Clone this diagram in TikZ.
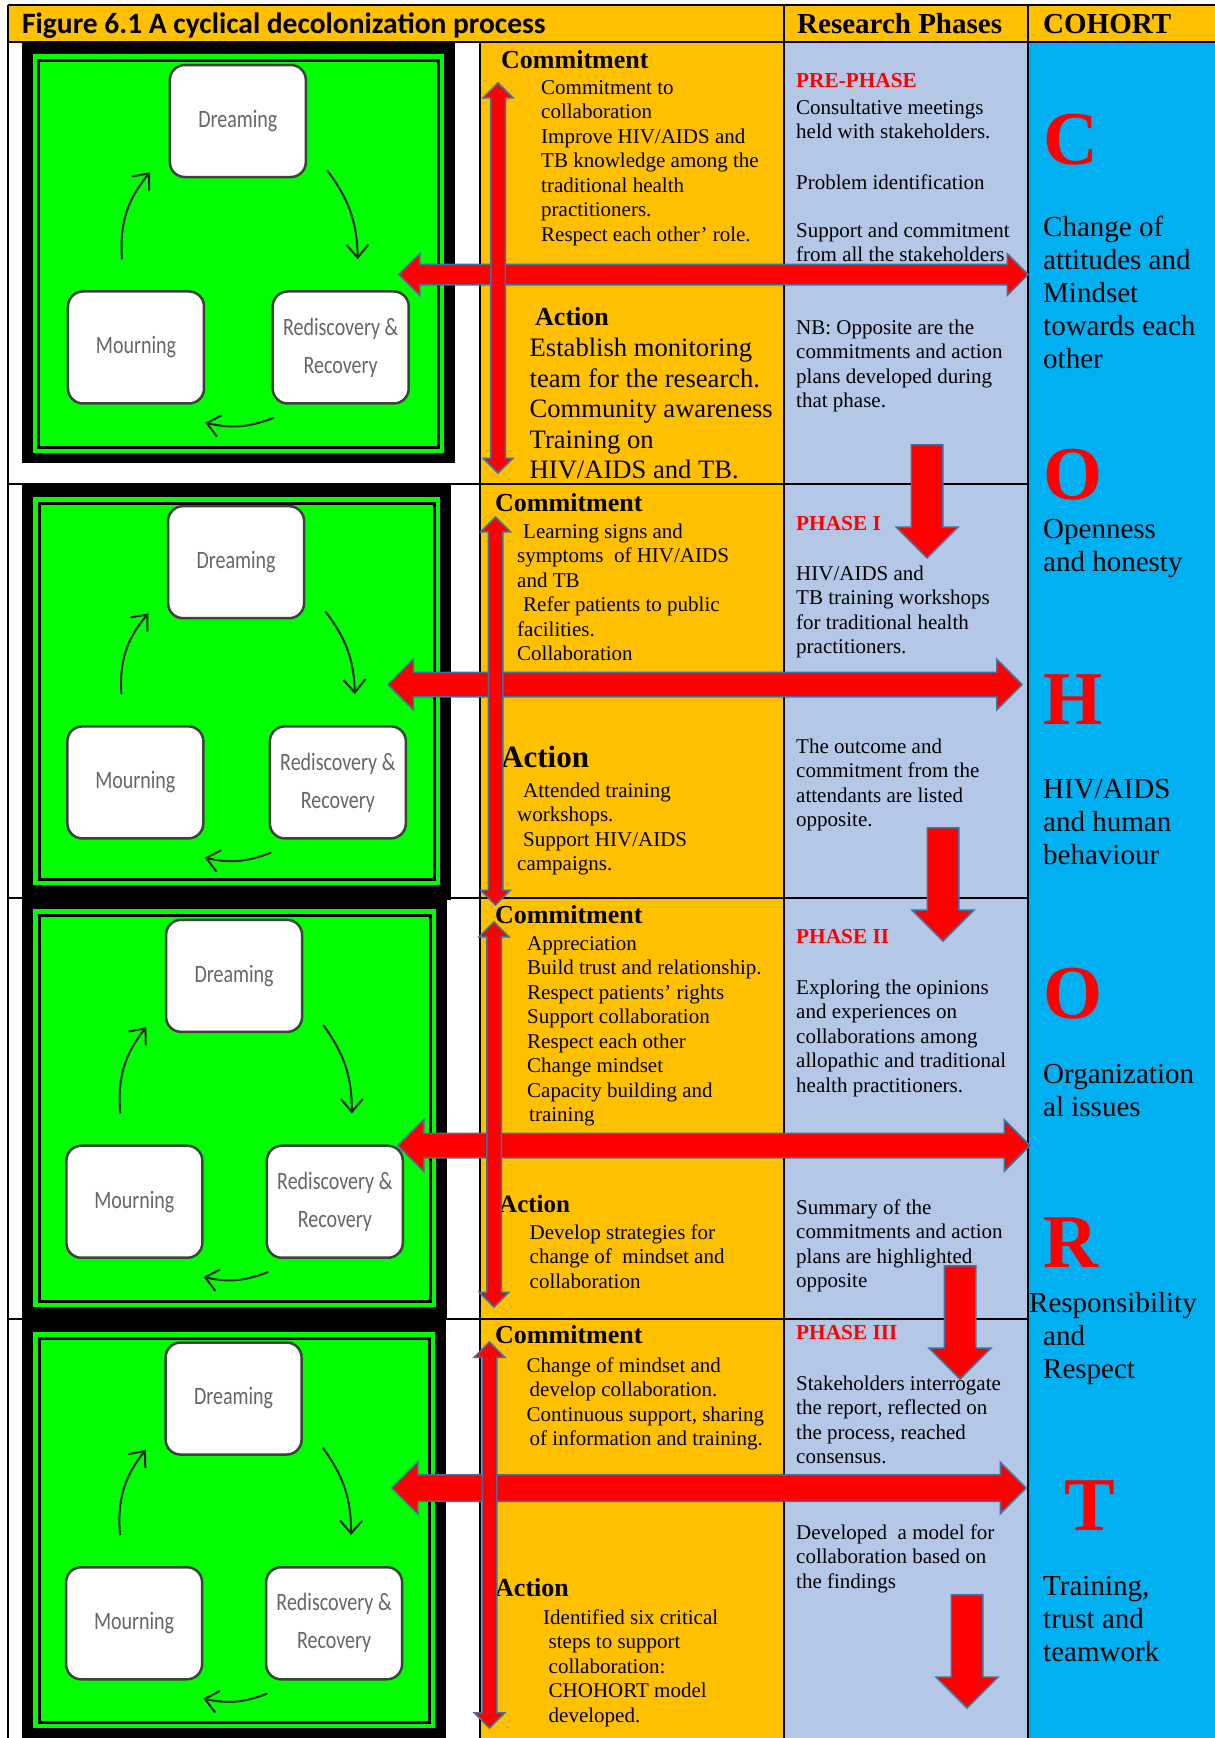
\documentclass[tikz,border=0pt]{standalone}
\usepackage{fontspec}
\setmainfont{Liberation Serif}
\newfontfamily\calibfont{Carlito}
\usetikzlibrary{arrows.meta, shapes.arrows}
\definecolor{cellorange}{HTML}{FFC000}
\definecolor{phaseblue}{HTML}{B4C7E7}
\definecolor{cohortblue}{HTML}{00B0F0}
\definecolor{imggreen}{HTML}{00FF00}
\definecolor{arrowedge}{HTML}{41719C}
\newcommand{\squeezed}[1]{\scalebox{0.8}[1]{#1}}
\tikzstyle{tableline} = [line width=2pt, black]
\tikzstyle{cbox} = [rectangle, draw=black!75, line width=2.5pt, fill=white,
    rounded corners=15pt, minimum width=136pt, minimum height=112pt,
    inner sep=0pt, align=center, text=black!60,
    font=\calibfont\fontsize{25}{38}\selectfont]
\tikzstyle{cycarrow} = [line width=2pt, black!85, -{Straight Barb[length=13pt,width=22pt]}]
\tikzstyle{fatdouble} = [double arrow, draw=arrowedge, fill=red, line width=1.5pt,
    inner xsep=0pt, double arrow tip angle=90]
\tikzstyle{fatdown} = [single arrow, draw=arrowedge, fill=red, line width=1.5pt,
    inner xsep=0pt, inner ysep=15pt, single arrow head extend=15pt,
    single arrow tip angle=90, rotate=-90, minimum height=113pt, anchor=tip]
\tikzstyle{textblock} = [anchor=north west, align=left, inner sep=0pt]
\tikzstyle{bodytext} = [textblock, font=\fontsize{21}{24.5}\selectfont,
    execute at begin node={\rule{0pt}{17.15pt}}, yshift=12.65pt]
\tikzstyle{bigtext} = [textblock, font=\fontsize{26.6}{30.5}\selectfont,
    execute at begin node={\rule{0pt}{21.35pt}}, yshift=16.85pt]
\tikzstyle{cohorttext} = [textblock, font=\fontsize{29}{33}\selectfont,
    execute at begin node={\rule{0pt}{23.1pt}}, yshift=18.6pt]
\tikzstyle{headtext} = [anchor=base west, inner sep=0pt, font=\bfseries\fontsize{26}{30}\selectfont]
\tikzstyle{phaselabel} = [anchor=base west, inner sep=0pt, text=red, font=\bfseries\fontsize{21.3}{24}\selectfont]
\tikzstyle{cohortletter} = [anchor=base west, inner sep=0pt, text=red, font=\bfseries\fontsize{76}{80}\selectfont]

\begin{document}
\begin{tikzpicture}[x=1pt, y=-1pt]
    \useasboundingbox (0,0) rectangle (1215,1738);
    \fill[white] (0,0) rectangle (1215,1738);

    % table cells
    \fill[cellorange] (8,5) rectangle (1215,42);
    \fill[cellorange] (480,42) rectangle (784,1738);
    \fill[phaseblue] (784,42) rectangle (1028,1738);
    \fill[cohortblue] (1028,42) rectangle (1215,1738);
    \draw[tableline] (8,5) -- (1215,5);
    \draw[tableline] (8,42) -- (1215,42);
    \draw[tableline] (8,5) -- (8,1738);
    \draw[tableline] (480,42) -- (480,1738);
    \draw[tableline] (784,5) -- (784,1738);
    \draw[tableline] (1028,5) -- (1028,1738);
    \foreach \ry in {484, 898, 1319}
        \draw[tableline] (8,\ry) -- (1028,\ry);

    % cycle pictures
    \fill[black] (22,43) rectangle (455,463);
    \fill[black] (22,485) rectangle (451,900);
    \fill[black] (22,898) rectangle (447,1320);
    \fill[black] (22,1320) rectangle (446,1738);
    \foreach \gx/\gy/\gw/\gh/\k in {32.5/54/411.5/399/1, 33/497/407/388/2, 33/909/403/398/3, 33/1332/402/396/4}{
        \fill[imggreen] (\gx,\gy) rectangle ++(\gw,\gh);
        \draw[line width=3pt] ({\gx+6},{\gy+6}) rectangle ({\gx+\gw-6},{\gy+\gh-6});
        \node[cbox] (dream\k) at ({\gx+0.499*\gw},{\gy+0.168*\gh}) {\squeezed{Dreaming}};
        \node[cbox] (mourn\k) at ({\gx+0.2515*\gw},{\gy+0.7355*\gh}) {\squeezed{Mourning}};
        \node[cbox] (redis\k) at ({\gx+0.749*\gw},{\gy+0.7355*\gh}) {\squeezed{Rediscovery \&}\\\squeezed{Recovery}};
        \draw[cycarrow] ([xshift=-14pt,yshift=31pt]mourn\k.north) to[bend left=22] ([xshift=-18.5pt,yshift=6pt]dream\k.south west);
        \draw[cycarrow] ([xshift=20pt,yshift=8pt]dream\k.south east) to[bend left=18] ([xshift=17pt,yshift=31pt]redis\k.north);
        \draw[cycarrow] ([xshift=2.5pt,yshift=-13pt]redis\k.south west) to[bend left=17] ([xshift=0pt,yshift=-18pt]mourn\k.south east);
    }

    % header
    \node[anchor=base west, inner sep=0pt, font=\calibfont\bfseries\fontsize{29.5}{32}\selectfont] (title) at (22,33) {Figure 6.1 A cyclical decolonization process};
    \node[anchor=base west, inner sep=0pt, font=\bfseries\fontsize{29}{32}\selectfont] (phasehdr) at (797,33) {Research Phases};
    \node[anchor=base west, inner sep=0pt, font=\bfseries\fontsize{29}{32}\selectfont] (cohorthdr) at (1043,33) {COHORT};

    % commitment and action column
    \node[headtext] (commitA) at (501,68) {Commitment};
    \node[bodytext] (commitAtxt) at (541,93) {Commitment to\\collaboration\\Improve HIV/AIDS and\\TB knowledge among the\\traditional health\\practitioners.\\Respect each other’ role.};
    \node[headtext] (actionA) at (535,325) {Action};
    \node[bigtext] (actionAtxt) at (529.5,355) {Establish monitoring\\team for the research.\\Community awareness\\Training on\\HIV/AIDS and TB.};

    \node[headtext] (commitB) at (495,511) {Commitment};
    \node[bodytext] (commitBtxt) at (517,536) {\hspace*{6pt}Learning signs and\\symptoms\ \ of HIV/AIDS\\and TB\\\hspace*{6pt}Refer patients to public\\facilities.\\Collaboration};
    \node[headtext, font=\bfseries\fontsize{31}{34}\selectfont] (actionB) at (501,767) {Action};
    \node[bodytext] (actionBtxt) at (517,795) {\hspace*{6pt}Attended training\\workshops.\\\hspace*{6pt}Support HIV/AIDS\\campaigns.};

    \node[headtext] (commitC) at (495,923) {Commitment};
    \node[bodytext] (commitCtxt) at (527,949) {Appreciation\\Build trust and relationship.\\Respect patients’ rights\\Support collaboration\\Respect each other\\Change mindset\\Capacity building and\\\hspace*{2pt}training};
    \node[headtext, font=\bfseries\fontsize{25}{28}\selectfont] (actionC) at (499,1212) {Action};
    \node[bodytext] (actionCtxt) at (529.5,1237) {Develop strategies for\\change of\ \ mindset and\\collaboration};

    \node[headtext] (commitD) at (495,1343) {Commitment};
    \node[bodytext] (commitDtxt) at (526.5,1370) {Change of mindset and\\\hspace*{3pt}develop collaboration.\\Continuous support, sharing\\\hspace*{3pt}of information and training.};
    \node[headtext] (actionD) at (495,1596) {Action};
    \node[bodytext] (actionDtxt) at (543,1622) {Identified six critical\\\hspace*{5.5pt}steps to support\\\hspace*{5.5pt}collaboration:\\\hspace*{5.5pt}CHOHORT model\\\hspace*{5.5pt}developed.};

    % research phases column
    \node[phaselabel] (prephase) at (796,87) {PRE-PHASE};
    \node[bodytext] (preA) at (796,112) {Consultative meetings\\held with stakeholders.};
    \node[bodytext] (preB) at (796,185) {Problem identification};
    \node[bodytext] (preC) at (796,235) {Support and commitment\\from all the stakeholders};
    \node[bodytext] (preD) at (796,332) {NB: Opposite are the\\commitments and action\\plans developed during\\that phase.};

    \node[phaselabel] (phaseone) at (796,530) {PHASE I};
    \node[bodytext] (oneA) at (796,578) {HIV/AIDS and\\TB training workshops\\for traditional health\\practitioners.};
    \node[bodytext] (oneB) at (796,751) {The outcome and\\commitment from the\\attendants are listed\\opposite.};

    \node[phaselabel] (phasetwo) at (796,943) {PHASE II};
    \node[bodytext] (twoA) at (796,992) {Exploring the opinions\\and experiences on\\collaborations among\\allopathic and traditional\\health practitioners.};
    \node[bodytext] (twoB) at (796,1212) {Summary of the\\commitments and action\\plans are highlighted\\opposite};

    \node[phaselabel] (phasethree) at (796,1339) {PHASE III};
    \node[bodytext] (threeA) at (796,1388) {Stakeholders interrogate\\the report, reflected on\\the process, reached\\consensus.};
    \node[bodytext] (threeB) at (796,1537) {Developed\ \ a model for\\collaboration based on\\the findings};

    % cohort column
    \node[cohortletter] (letC) at (1043,164) {C};
    \node[cohorttext] (txtC) at (1043,234) {Change of\\attitudes and\\Mindset\\towards each\\other};
    \node[cohortletter] (letO) at (1043,499) {O};
    \node[cohorttext] (txtO) at (1043,538) {Openness\\and honesty};
    \node[cohortletter] (letH) at (1043,724) {H};
    \node[cohorttext] (txtH) at (1043,798) {HIV/AIDS\\and human\\behaviour};
    \node[cohortletter] (letOb) at (1043,1018) {O};
    \node[cohorttext] (txtOb) at (1043,1083) {Organization\\al issues};
    \node[cohortletter] (letR) at (1043,1267) {R};
    \node[anchor=base west, inner sep=0pt, font=\fontsize{29}{33}\selectfont] (txtR) at (1029,1312) {Responsibility};
    \node[cohorttext] (txtRb) at (1043,1344) {and\\Respect};
    \node[cohortletter] (letT) at (1064,1530) {T};
    \node[cohorttext] (txtT) at (1043,1595) {Training,\\trust and\\teamwork};

    % red arrows
    \node[fatdouble, minimum height=629pt, inner ysep=9.5pt, double arrow head extend=10.5pt] (hlink1) at (713.5,274.5) {};
    \node[fatdouble, minimum height=634pt, inner ysep=11.5pt, double arrow head extend=13pt] (hlink2) at (705,684.5) {};
    \node[fatdouble, minimum height=632pt, inner ysep=11.5pt, double arrow head extend=13.5pt] (hlink3) at (714,1145.5) {};
    \node[fatdouble, minimum height=634pt, inner ysep=12.5pt, double arrow head extend=12.5pt] (hlink4) at (709,1488) {};

    \node[fatdouble, rotate=90, minimum height=390pt, inner ysep=6.5pt, double arrow head extend=7.5pt] (vlink1) at (498,278) {};
    \node[fatdouble, rotate=90, minimum height=388pt, inner ysep=6.5pt, double arrow head extend=7.5pt] (vlink2) at (495.5,711) {};
    \node[fatdouble, rotate=90, minimum height=385pt, inner ysep=6.5pt, double arrow head extend=7.5pt] (vlink3) at (494,1114.5) {};
    \node[fatdouble, rotate=90, minimum height=386pt, inner ysep=6.5pt, double arrow head extend=8pt] (vlink4) at (489.5,1535) {};

    \node[fatdown] (next1) at (927,559) {};
    \node[fatdown] (next2) at (943,942) {};
    \node[fatdown] (next3) at (960,1380) {};
    \node[fatdown] (next4) at (967,1709) {};
\end{tikzpicture}
\end{document}
